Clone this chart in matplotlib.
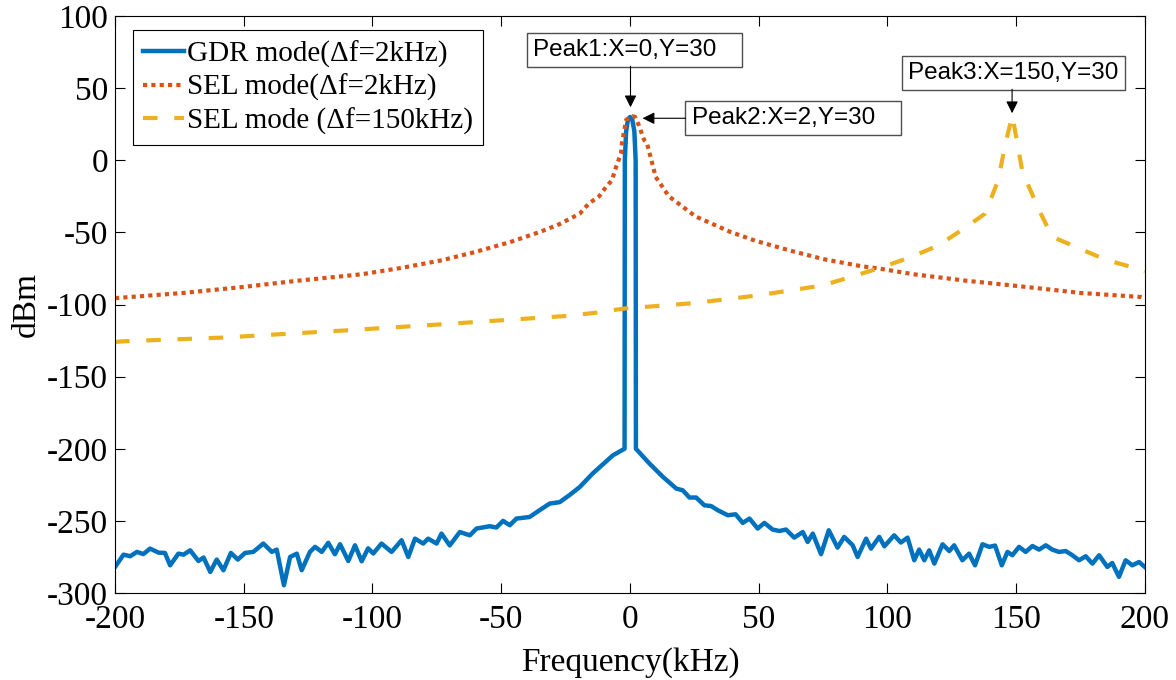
import matplotlib
matplotlib.use("Agg")
import matplotlib.pyplot as plt

plt.rcParams['font.family'] = ['Liberation Serif', 'DejaVu Serif']
plt.rcParams['axes.unicode_minus'] = False

# GDR mode (df=2kHz)
gdr_x = [-200, -196.7, -194.1, -191.5, -189, -186.4, -183.1, -180.6, -178.6, -175.4,
         -173.4, -170.8, -167.6, -165.6, -163, -160.5, -157.9, -155, -152.3, -149.5,
         -146.3, -142.4, -139.1, -137.2, -134.4, -132, -129.4, -127.5, -124.3, -122.3,
         -119.7, -117.2, -114.6, -112.6, -109.4, -106.8, -104.2, -101.7, -99.7, -96.5,
         -92.6, -88.7, -86.1, -83.5, -80.3, -78.4, -75.1, -73.2, -70, -66.1,
         -62.2, -59.6, -54.5, -51.9, -49.3, -46.7, -44.1, -39, -35.1, -31.2,
         -27.3, -23.4, -19.5, -14.4, -6.6, -2.1, -2.0, -1.5, -0.8, 0,
         0.9, 1.7, 2.2, 2.3, 7.6, 12.8, 18, 20.5, 23.1, 25.7,
         28.9, 31.5, 34.1, 38, 41, 43.8, 46.4, 49.6, 52.2, 55.4,
         58, 60.6, 63.8, 67.1, 69, 71, 74.2, 77.2, 80.6, 83.2,
         86.5, 88.4, 91.7, 93.6, 96.8, 98.8, 102.6, 105.2, 107.8, 110.4,
         112.3, 114.3, 116.2, 118.2, 121.4, 124, 125.9, 129.1, 131.7, 134,
         136.9, 139.5, 141.8, 144.4, 146.6, 148.5, 151.1, 153.7, 156.3, 158.9,
         161.5, 164, 166.6, 169.2, 171.8, 174.4, 177, 179.6, 182.2, 185.4,
         187.3, 189.9, 192.5, 195.1, 197.7, 200]
gdr_y = [-282, -273.4, -274.5, -271.5, -273, -269.2, -272, -272.2, -280.8, -272.7,
         -273.4, -270.4, -277.8, -275.4, -285.4, -276.8, -284.2, -272.2, -276.8, -272.2,
         -271.5, -265.7, -271.5, -269.9, -294.6, -275, -272.7, -284.2, -271.5, -268,
         -271.5, -265.2, -273.1, -266.2, -277.8, -266.9, -278, -269, -272.6, -265.7,
         -271.5, -263.4, -275, -262.3, -265.7, -262.3, -265.7, -258.8, -267, -257.7,
         -260, -255.3, -253.7, -254.6, -250, -253, -248.4, -247.3, -242.6, -238,
         -237, -232, -226.5, -217, -204.5, -200, 0, 20, 28, 30,
         28, 20, 0, -200, -210.3, -219.5, -227.6, -228.8, -233.8, -233.8,
         -239.2, -239.7, -242.6, -246.1, -245.4, -251.4, -248.4, -255.3, -251.4, -256,
         -257, -256, -261.6, -257.7, -264.6, -258.8, -273.1, -256.5, -268.5, -261.1,
         -266.9, -275, -262.3, -269.2, -261.1, -267.6, -260, -265, -261.6, -277.3,
         -269.9, -277.3, -270.4, -279.6, -266.2, -270.9, -266.9, -277.3, -272.7, -280.8,
         -266.2, -268, -267.1, -280.8, -271.5, -273.8, -268, -271.5, -267.4, -269.9,
         -266.9, -269.9, -271.5, -270.9, -273.8, -277.3, -274.5, -279.6, -273.8, -281.9,
         -279.2, -288.8, -277.3, -280.8, -278.5, -282]

# SEL mode (df=2kHz)
sel2_x = [-200, -173.5, -163, -150, -129.5, -104, -88, -73, -61, -47,
          -35, -27.5, -19.5, -16, -12, -9.3, -7, -5.4, -3.5, -3.1,
          -1.5, 1, 2, 3.5, 5.5, 6.6, 10, 15.1, 25.5, 39,
          49, 63, 75, 90, 96.5, 110, 131, 148, 165, 175,
          198.5, 200]
sel2_y = [-95.6, -92, -90.1, -87.8, -83.6, -79, -74.4, -69.3, -64, -57,
          -49.7, -44.4, -37, -30, -25, -18.5, -13.9, -4.6, 4.6, 12,
          28, 30.5, 30, 24, 14, 11.8, -11.6, -25, -39, -49.7,
          -56, -63, -68.5, -73.5, -75, -79, -83.6, -86.7, -90, -92,
          -94.8, -95.6]

# SEL mode (df=150kHz)
sel150_x = [-200, -197, -159, -110, -73, -49.6, -24.4, -12.8, -2.3, 25,
            50, 75, 96.5, 109.3, 119.8, 130, 137.9, 143, 145.8, 148.5,
            152.4, 158.9, 164, 173, 184.8, 198.8, 200]
sel150_y = [-126, -125.5, -123, -117.9, -113.7, -110.9, -107.9, -105.6, -102.8, -99,
            -93.6, -86.7, -75, -67, -59, -47, -37, -13.9, 11.6, 31,
            -8, -34.7, -53, -60, -69, -76, -77]

# data tips: label, text anchor (left edge), arrow tail, arrow tip
tip_labels = ['Peak1:X=0,Y=30   ', 'Peak2:X=2,Y=30   ', 'Peak3:X=150,Y=30']
tip_text_xy = [(-37.8, 76.6), (23.9, 29.3), (108.1, 60.3)]
tip_tail_xy = [(0.2, 65.2), (21.6, 29.1), (148.4, 49.2)]
tip_head_xy = [(0.2, 36.7), (4.9, 29.1), (148.4, 32.6)]

fig = plt.figure(figsize=(11.76, 6.8), dpi=100)
ax = fig.add_axes([0.0978, 0.1279, 0.8758, 0.8486])

ax.plot(gdr_x, gdr_y, color='#0072BD', lw=3.2, label='GDR mode(Δf=2kHz)')
ax.plot(sel2_x, sel2_y, color='#D95319', lw=3.0, ls=(0, (1, 1)), label='SEL mode(Δf=2kHz)')
ax.plot(sel150_x, sel150_y, color='#EDB120', lw=3.0, ls=(0, (3.5, 4)), label='SEL mode (Δf=150kHz)')

ax.set_xlim(-200, 200)
ax.set_ylim(-300, 100)
ax.set_xticks(range(-200, 201, 50))
ax.set_yticks(range(-300, 101, 50))
ax.tick_params(direction='in', top=True, right=True, labelsize=24, length=7, width=0.8)
ax.tick_params(axis='x', pad=8)
ax.tick_params(axis='y', pad=5)
for s in ax.spines.values():
    s.set_linewidth(0.8)
ax.set_xlabel('Frequency(kHz)', fontsize=24, labelpad=9)
ax.set_ylabel('dBm', fontsize=24, labelpad=4)

leg = ax.legend(loc='upper left', bbox_to_anchor=(0.0175, 0.9757), borderaxespad=0,
                fontsize=21, fancybox=False, edgecolor='black', framealpha=1,
                handlelength=1.4, handletextpad=0.1, labelspacing=0.22, borderpad=0.35)
leg.get_frame().set_linewidth(0.8)

box = dict(boxstyle='square,pad=0.25', fc='white', ec='0.3', lw=1)
arr = dict(arrowstyle='-|>', color='black', lw=0.8, mutation_scale=18, shrinkA=0, shrinkB=0)
for lab, txy, tail, head in zip(tip_labels, tip_text_xy, tip_tail_xy, tip_head_xy):
    ax.text(txy[0], txy[1], lab, ha='left', va='center', family='Liberation Sans',
            fontsize=17.5, bbox=box, zorder=5)
    ax.annotate('', xy=head, xytext=tail, arrowprops=arr, zorder=5)

fig.savefig('out.png', dpi=100)
